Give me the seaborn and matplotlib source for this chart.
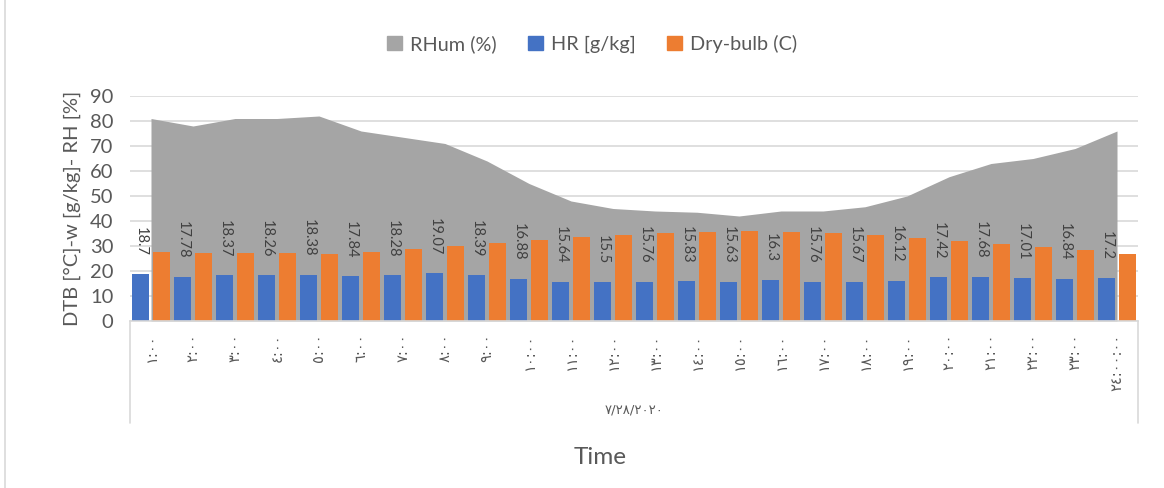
import numpy as np
import pandas as pd
import matplotlib
matplotlib.use("Agg")
import matplotlib.pyplot as plt
from matplotlib.patches import Patch
from matplotlib.lines import Line2D
import seaborn as sns

# Hourly readings for 28 July 2020
times = ['١:٠٠', '٢:٠٠', '٣:٠٠', '٤:٠٠', '٥:٠٠', '٦:٠٠', '٧:٠٠', '٨:٠٠',
         '٩:٠٠', '١٠:٠٠', '١١:٠٠', '١٢:٠٠', '١٣:٠٠', '١٤:٠٠', '١٥:٠٠',
         '١٦:٠٠', '١٧:٠٠', '١٨:٠٠', '١٩:٠٠', '٢٠:٠٠', '٢١:٠٠', '٢٢:٠٠',
         '٢٣:٠٠', '٢٤:٠٠:٠٠']
date_label = '٧/٢٨/٢٠٢٠'

rhum = [81, 78, 81, 81, 82, 76, 73.5, 71, 64, 55, 48, 45, 44, 43.5, 42,
        44, 44, 45.7, 50, 57.7, 63, 65, 69, 76]
hr = [18.7, 17.78, 18.37, 18.26, 18.38, 17.84, 18.28, 19.07, 18.39, 16.88,
      15.64, 15.5, 15.76, 15.83, 15.63, 16.3, 15.76, 15.67, 16.12, 17.42,
      17.68, 17.01, 16.84, 17.2]
dry_bulb = [27.5, 27.1, 27.1, 27.1, 26.9, 27.6, 28.7, 30.0, 31.1, 32.4,
            33.5, 34.4, 35.1, 35.6, 35.9, 35.7, 35.1, 34.3, 33.3, 32.0,
            30.8, 29.6, 28.4, 26.9]

series_names = ['RHum (%)', 'HR [g/kg]', 'Dry-bulb (C)']
colors = {'RHum (%)': '#A5A5A5', 'HR [g/kg]': '#4472C4', 'Dry-bulb (C)': '#ED7D31'}
yticks = [0, 10, 20, 30, 40, 50, 60, 70, 80, 90]

bars = pd.DataFrame({
    'time': times * 2,
    'series': ['HR [g/kg]'] * len(times) + ['Dry-bulb (C)'] * len(times),
    'value': hr + dry_bulb,
})

sns.set_theme(style="white")
plt.rcParams['font.family'] = ['Lato', 'DejaVu Sans']
text_color = '#595959'
W, H = 1164, 488
fig = plt.figure(figsize=(W / 100, H / 100), dpi=100)
ax = fig.add_axes([130 / W, 1 - 321 / H, (1138 - 130) / W, (321 - 96) / H])

# grey humidity area behind the bars
x = np.arange(len(times))
ax.fill_between(x, rhum, color=colors['RHum (%)'], lw=0, zorder=1)

sns.barplot(data=bars, x='time', y='value', hue='series', order=times,
            hue_order=['HR [g/kg]', 'Dry-bulb (C)'],
            palette=[colors['HR [g/kg]'], colors['Dry-bulb (C)']],
            width=0.98, gap=0.2, saturation=1, errorbar=None,
            legend=False, ax=ax, zorder=2, linewidth=0)

# value labels on the humidity-ratio bars
ax.bar_label(ax.containers[0], labels=[f'{v:g}' for v in hr], padding=13,
             rotation=270, fontsize=10.5, color='#404040')

ax.set_xlim(-0.5, len(times) - 0.5)
ax.set_ylim(0, 90)
ax.set_yticks(yticks)
ax.yaxis.grid(True, color='#D9D9D9', lw=1.2, zorder=0)
ax.set_axisbelow(True)
for s in ['left', 'right', 'top']:
    ax.spines[s].set_visible(False)
ax.spines['bottom'].set_color('#D9D9D9')
ax.spines['bottom'].set_linewidth(1.2)
ax.tick_params(axis='y', length=0, labelsize=14.5, labelcolor=text_color, pad=12)
ax.tick_params(axis='x', length=0, pad=9)
ax.set_xticks(x)
ax.set_xticklabels(times, rotation=90, fontsize=10.5, color=text_color,
                   family='DejaVu Sans', va='top')
ax.set_xlabel('')
ax.set_ylabel('DTB [°C]-w [g/kg]- RH [%]', fontsize=14.5, color=text_color)
ax.yaxis.set_label_coords(-(130 - 81) / (1138 - 130), 0.5)

# frame of the date group below the hour labels
ah = 321 - 96
for xa in (0, 1):
    ax.add_line(Line2D([xa, xa], [0, -(423 - 321) / ah], transform=ax.transAxes,
                       color='#D9D9D9', lw=1.2, clip_on=False))
ax.text(0.5, -(410 - 321) / ah, date_label, transform=ax.transAxes,
        ha='center', va='center', fontsize=9.5, color=text_color,
        family='DejaVu Sans')

fig.text(600 / W, 1 - 458 / H, 'Time', ha='center', va='center',
         fontsize=17.5, color=text_color)

handles = [Patch(color=colors[n]) for n in series_names]
fig.legend(handles, series_names, loc='center', bbox_to_anchor=(592 / W, 1 - 44 / H),
           ncol=3, frameon=False, fontsize=14.3, labelcolor=text_color,
           handlelength=0.75, handleheight=0.75, handletextpad=0.4,
           columnspacing=1.6)

fig.add_artist(Line2D([5 / W, 5 / W], [0, 1], color='#D9D9D9', lw=1.2))

fig.savefig('out.png', dpi=100)
